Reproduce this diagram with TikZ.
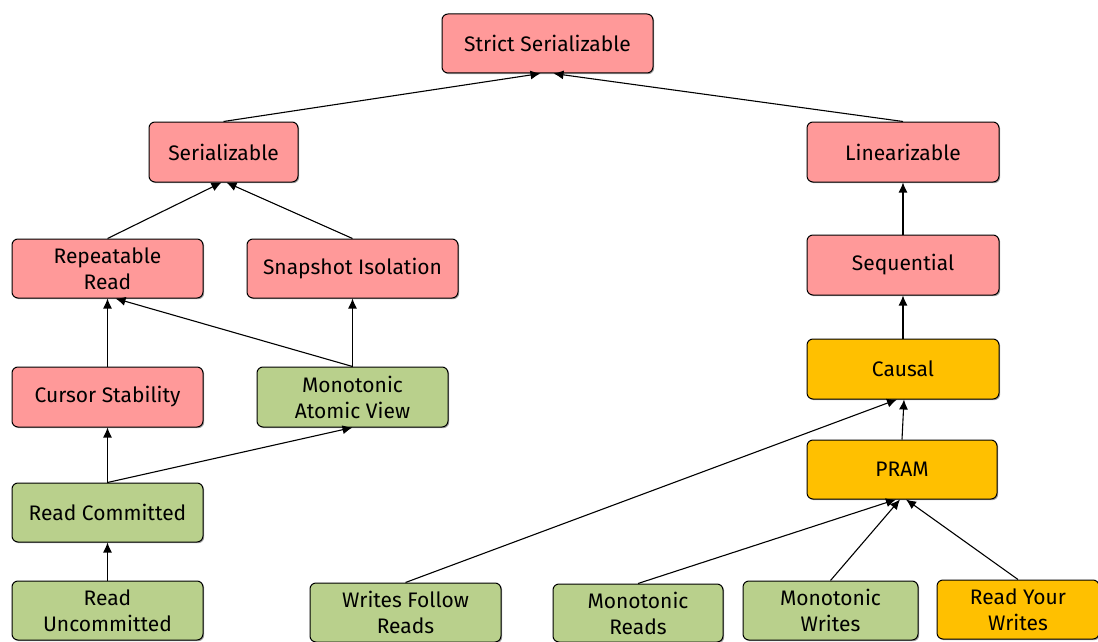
\documentclass[tikz,border=0pt]{standalone}
\usepackage{fontspec}
\setmainfont{Fira Sans}
\usetikzlibrary{arrows.meta,shadows}
\definecolor{strong}{HTML}{FF9999}
\definecolor{weak}{HTML}{B9D08C}
\definecolor{mid}{HTML}{FFC000}
\tikzset{
  level/.style={draw=black, line width=1pt, rounded corners=6pt, align=center,
    font=\fontsize{21}{26}\selectfont, inner sep=0pt,
    drop shadow={shadow xshift=1.2pt, shadow yshift=-1.2pt, opacity=0.35, fill=black}},
  strongbox/.style={level, fill=strong},
  weakbox/.style={level, fill=weak},
  midbox/.style={level, fill=mid},
  implies/.style={-{Latex[length=10pt,width=9pt]}, line width=1.1pt}
}
\begin{document}
\begin{tikzpicture}[x=1pt,y=-1pt]
\useasboundingbox (0,0) rectangle (1098,642);
% strong (red) levels
\node[strongbox, minimum width=211pt, minimum height=59pt] (strict) at (547.5,43.5) {Strict Serializable};
\node[strongbox, minimum width=149pt, minimum height=60pt] (ser) at (223.5,152) {Serializable};
\node[strongbox, minimum width=192pt, minimum height=60pt] (lin) at (903,152) {Linearizable};
\node[strongbox, minimum width=191pt, minimum height=59pt] (rr) at (107.5,268.5) {Repeatable\\Read};
\node[strongbox, minimum width=211pt, minimum height=59pt] (si) at (352.5,268.5) {Snapshot Isolation};
\node[strongbox, minimum width=192pt, minimum height=60pt] (seq) at (903,265) {Sequential};
\node[strongbox, minimum width=191pt, minimum height=60pt] (cs) at (107.5,397) {Cursor Stability};
% weak (green) levels
\node[weakbox, minimum width=191pt, minimum height=60pt] (mav) at (352.5,397) {Monotonic\\Atomic View};
\node[weakbox, minimum width=191pt, minimum height=59pt] (rc) at (107.5,512.5) {Read Committed};
\node[weakbox, minimum width=191pt, minimum height=59pt] (ru) at (107.5,610.5) {Read\\Uncommitted};
\node[weakbox, minimum width=191pt, minimum height=59pt] (wfr) at (405.5,612.5) {Writes Follow\\Reads};
\node[weakbox, minimum width=170pt, minimum height=58pt] (mr) at (638,613) {Monotonic\\Reads};
\node[weakbox, minimum width=175pt, minimum height=59pt] (mw) at (830.5,610.5) {Monotonic\\Writes};
% sticky (yellow) levels
\node[midbox, minimum width=192pt, minimum height=60pt] (causal) at (903,369) {Causal};
\node[midbox, minimum width=190pt, minimum height=59pt] (pram) at (902,469.5) {PRAM};
\node[midbox, minimum width=162pt, minimum height=59pt] (ryw) at (1018,609.5) {Read Your\\Writes};
% implications
\draw[implies] (ser.north) -- ([xshift=-7pt]strict.south);
\draw[implies] (lin.north) -- ([xshift=6pt]strict.south);
\draw[implies] (rr.north) -- ([xshift=-2pt]ser.south);
\draw[implies] (si.north) -- ([xshift=3pt]ser.south);
\draw[implies] (seq.north) -- (lin.south);
\draw[implies] (cs.north) -- (rr.south);
\draw[implies] (mav.north) -- ([xshift=8pt]rr.south);
\draw[implies] (mav.north) -- (si.south);
\draw[implies] (causal.north) -- (seq.south);
\draw[implies] (rc.north) -- (cs.south);
\draw[implies] (rc.north) -- (mav.south);
\draw[implies] (ru.north) -- (rc.south);
\draw[implies] (pram.north) -- ([xshift=1pt]causal.south);
\draw[implies] (wfr.north) -- ([xshift=-6pt]causal.south);
\draw[implies] (mr.north) -- ([xshift=-6pt]pram.south);
\draw[implies] (mw.north) -- ([xshift=-2pt]pram.south);
\draw[implies] (ryw.north) -- ([xshift=4pt]pram.south);
\end{tikzpicture}
\end{document}
